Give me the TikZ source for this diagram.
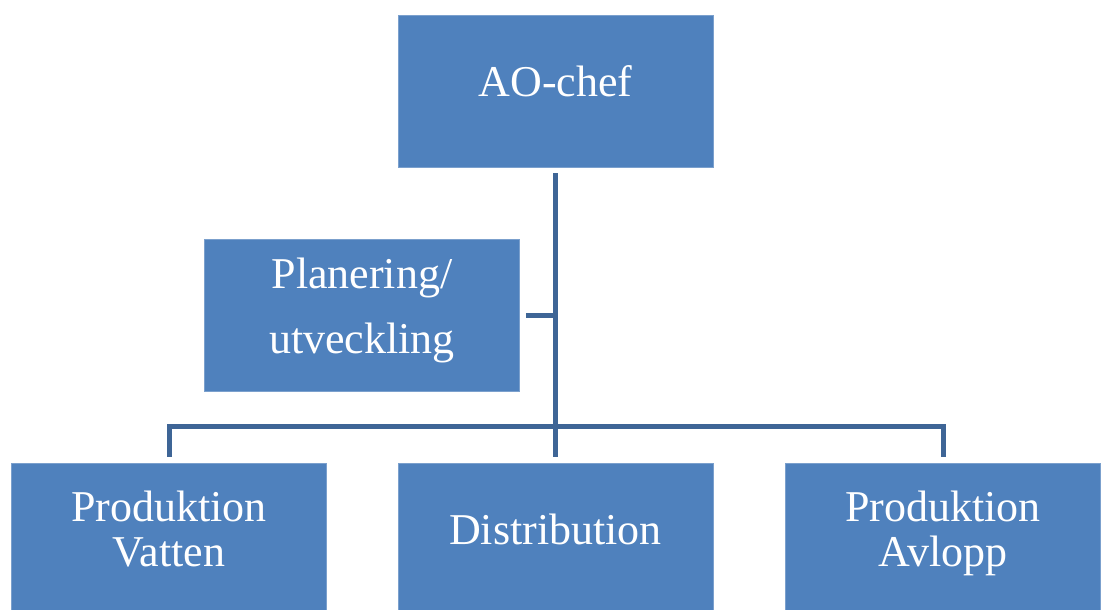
\documentclass[tikz,border=0pt]{standalone}
\usepackage{fontspec}
\setmainfont{Liberation Serif}
\definecolor{boxblue}{RGB}{79,129,189}
\definecolor{lineblue}{RGB}{62,101,150}
\tikzset{
  box/.style={draw=boxblue!75!white,line width=0.75pt,fill=boxblue,rectangle,
    minimum width=315,minimum height=152,inner sep=0pt,text=white,align=center,
    font=\fontsize{44}{45}\selectfont,execute at end node={\rule[-20pt]{0pt}{20pt}}},
  conn/.style={draw=lineblue,line width=5pt,shorten <=6pt,shorten >=6pt}
}
\begin{document}
\begin{tikzpicture}[x=1pt,y=-1pt]
        \clip (0,0) rectangle (1108,610);
        %% Boxes
        \node[box] (ao) at (555.5,91) {AO-chef};
        \node[box,font=\fontsize{44}{65}\selectfont] (plan) at (362,315.5) {Planering/\\utveckling};
        \node[box] (vatten) at (169,539) {Produktion\\Vatten};
        \node[box] (dist) at (555.5,539) {Distribution};
        \node[box] (avlopp) at (943,539) {Produktion\\Avlopp};
        %% Lines
        \draw[conn] (ao.south) -- (dist.north);
        \draw[conn,shorten >=0pt] (plan.east) -- (plan.east -| ao.south);
        \draw[conn] (vatten.north) -- ++(0,-36) -| (avlopp.north);
\end{tikzpicture}
\end{document}
